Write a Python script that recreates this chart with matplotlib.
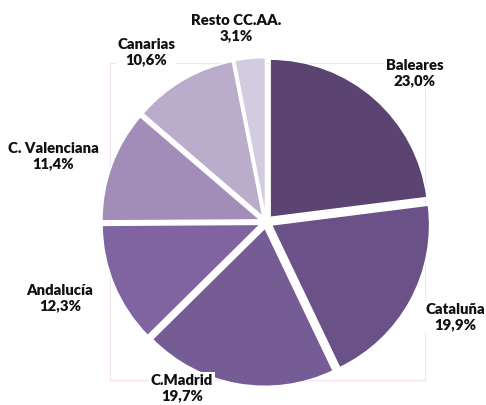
import matplotlib.pyplot as plt
from matplotlib.patches import Rectangle

# datos del grafico
regiones = ['Baleares', 'Cataluña', 'C.Madrid', 'Andalucía', 'C. Valenciana', 'Canarias', 'Resto CC.AA.']
porcentajes = [23.0, 19.9, 19.7, 12.3, 11.4, 10.6, 3.1]
colores = ['#5B4472', '#6A5188', '#755C95', '#8064A2', '#A18DB8', '#B9ADCB', '#D3CBE0']

# posiciones de las etiquetas en pixeles (centro del texto)
pos_etiquetas = [(415, 73), (455, 317), (182, 388), (60, 298), (53, 156), (146, 52), (236, 28)]

W, H = 486, 405
cx, cy, r = 266, 222, 158

fig = plt.figure(figsize=(W / 100, H / 100), dpi=100)
ax = fig.add_axes([0, 0, 1, 1])

wedges, _ = ax.pie(porcentajes, colors=colores, startangle=90, counterclock=False,
                   explode=[0.04] * len(porcentajes), radius=1,
                   wedgeprops={'edgecolor': 'white', 'linewidth': 1.0})
for w in wedges:
    w.set_zorder(2)

ax.set_xlim(-cx / r, (W - cx) / r)
ax.set_ylim(-(H - cy) / r, cy / r)
ax.set_aspect('equal')
ax.axis('off')

# borde tenue del area de trazado (detras de todo)
ax.add_patch(Rectangle((110 / W, 1 - 380 / H), 315 / W, 317 / H, transform=ax.transAxes,
                       fill=False, edgecolor='#F2E2F2', linewidth=0.8, zorder=1))

for nombre, valor, (px, py) in zip(regiones, porcentajes, pos_etiquetas):
    texto = nombre + '\n' + f'{valor:.1f}'.replace('.', ',') + '%'
    ax.text((px - cx) / r, (cy - py) / r, texto, ha='center', va='center', zorder=5,
            fontsize=10.7, fontweight='heavy', family='Lato', color='#111111', linespacing=1.25,
            bbox=dict(boxstyle='square,pad=0.1', facecolor='white', edgecolor='none'))

fig.savefig('out.png', dpi=100)
